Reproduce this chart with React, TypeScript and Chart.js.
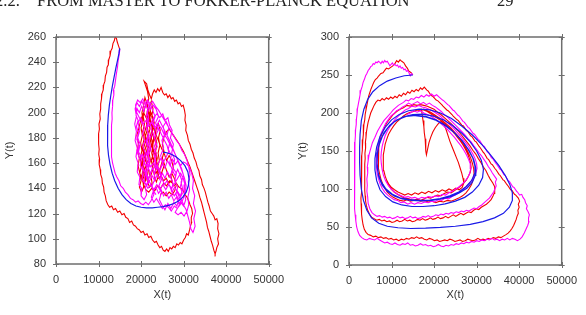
import React, { useEffect, useRef } from 'react';
import { Chart, registerables } from 'chart.js';
Chart.register(...registerables);

// ---------- axis settings ----------
const X_MIN = 0, X_MAX = 50000, X_STEP = 10000;
const LEFT_Y = [80, 260, 20];
const RIGHT_Y = [0, 300, 50];

// ---------- left panel series ----------
const blueLeft: number[][] = [
  [15000,251],[14800,247],[14500,242],[14100,236],[13700,229],[13300,222],[12900,214],[12550,206],[12300,198],[12150,190],[12100,182],[12150,174],[12350,166],[12700,159],[13200,152],[13800,146],[14600,140],[15500,135],[16500,131],[17600,128],[18800,126],[20000,125],[21300,124.5],[22600,124.5],[23900,125],[25200,125.5],[26500,126.5],[27700,128],[28800,130],[29800,133],[30600,137],[31100,142],[31300,147],[31000,153],[30300,158],[29300,162],[28200,165],[27100,167],[26200,168],[25600,168.5],[25200,168.5]
];

const redLeft: number[][] = [
  [15000,250],[14700,253],[14400,256],[14200,259],[13900,260],[13700,257],[13400,255],[13200,251],[12900,249],[12700,245],[12400,242],[12300,238],[12000,236],[11900,232],[11600,229],[11500,225],[11200,222],[11100,218],[10800,215],[10700,211],[10500,207],[10500,203],[10300,199],[10400,195],[10100,191],[10200,187],[10000,183],[10100,179],[9950,175],[10150,171],[10050,167],[10250,163],[10150,159],[10400,155],[10500,151],[10800,148],[10900,144],[11200,141],[11300,137],[11600,134],[11800,130],[12200,127],[12600,125],[13100,126],[13500,123],[14000,124],[14500,121],[15000,122],[15500,119],[16000,120],[16400,117],[16900,116],[17300,113],[17800,114],[18200,111],[18700,110],[19100,108],[19600,107],[20000,105],[20500,106],[20900,103],[21400,104],[21800,101],[22300,102],[22700,99],[23200,97],[23600,98],[24000,95],[24400,93],[24800,94],[25200,91],[25600,90],[26000,92],[26400,90],[26800,93],[27200,92],[27600,94],[28000,93],[28400,96],[28800,95],[29200,97],[29600,96],[30000,99],[30400,101],[30700,104],[31100,103],[31400,107],[31600,110],[31900,113],[31800,117],[32100,120],[31900,124],[31500,127],[31200,130],[30800,133],[30300,135],[29900,138],[29400,140],[28900,141],
  [28300,144],[27700,142],[27100,146],[26500,144],[25900,148],[25300,146],[24700,150],[24100,148],[23600,153],[23100,151],[22700,156],[22900,162],[22500,168],[22800,174],[22400,180],[22700,186],[22300,192],[22000,198],[21700,203],[21300,208],[20900,212],[20600,206],[20200,200],[20400,194],[20000,188],[20300,182],[19900,176],[20200,170],[19800,164],[20100,158],[19700,152],[20000,146],[19600,141],[20100,137],[20600,141],[20400,147],[20900,152],[20600,158],[21100,163],[20800,169],[21300,175],[21000,181],[21500,187],[21200,193],[21700,199],[21400,205],[21800,211],[21500,217],[21000,222],[20700,225],[21300,223],[21600,218],[22000,214],[22400,211],[22700,215],[23100,218],[23500,216],[23900,219],[24300,217],[24700,220],[25100,216],[25500,214],[25900,215],[26300,212],[26700,214],[27100,211],[27500,212],[27900,209],[28300,210],[28700,207],[29100,208],[29500,205],[29900,206],[30200,202],[30400,198],[30300,194],[30600,190],[30500,186],[30900,182],[31100,178],[31500,175],[31800,171],[32200,168],[32500,164],[32900,161],[33200,157],[33600,154],[33800,150],[34200,147],[34400,143],[34800,140],[35100,137],[35400,133],[35700,129],[36000,126],[36300,122],[36700,120],[37100,118],[37400,115],[37800,116],[38100,112],[38000,108],[38300,104],[38000,100],[38200,96],[37800,93],[37600,90],[37400,88],[37100,91],[36800,95],[36500,98],[36200,102],[35900,106],[35600,109],[35400,113],[35100,117],[34800,121],[34500,125],[34200,129],[33800,133],[33500,137],[33100,141],[32700,145],[32300,149],[31900,153],[31500,157],[31000,161],[30500,165],[30000,169],[29500,172],[29000,175],[28400,178],[27800,181],[27200,184],[26600,187],
  [26000,185],[25400,181],[25000,175],[25400,169],[24900,163],[25300,157],[24700,151],[24100,155],[23700,161],[23300,167],[23600,173],[23200,179],[23500,185],[23000,190],[22500,186],[22100,180],[22400,174],[21900,168],[22200,162],[21700,156],[22000,150],[21500,145],[22000,141],[22600,144],[22300,150],[22800,156],[22400,162],[22900,168],[22500,174],[23000,180],[22600,186],[23100,192],[22700,197],[22200,201],[21800,196],[21400,190],[21700,184],[21200,178],[21500,172],[21000,166],[21300,160],[20800,154],[21100,148],[20600,143],[21100,139],[21800,137],[22500,140],[23200,138],[23900,142],[24600,140],[25300,144],[26000,142],[26700,146],[27400,144],[27000,150],[27600,156],[27200,162],[26600,166],[26000,162],[25500,167],[24900,171],[24300,176],[23700,181],[23100,186],[22500,191],[21900,194],[21300,190],[20800,184],[21100,178],[20600,172],[20900,166],[20400,160],[20700,154],[20200,148],[19700,152],[19300,158],[19600,164],[19100,170],[19400,176],[19000,182],[19500,188],[20000,195],[20600,200],[21200,196],
  [21600,203],[21300,208],[20800,203],[20500,197],[20800,191],[20400,185],[20700,179],[20300,173],[20600,167],[20200,161],[20500,155],[20100,149],[20500,144],[21100,146],[21500,151],[21200,157],[21700,163],[21400,169],[21900,175],[21600,181],[22100,187],[21800,193],[22300,199],[22000,205],[22400,209],[22800,203],[22500,197],[22900,191],[22600,185],[23000,179],[22700,173],[23200,167],[22900,161],[23400,155],[23100,149],[23600,145],[24100,150],[23800,156],[24300,162],[24000,168],[24400,174],[24100,180],[24500,186],[24100,191],[23600,188],[23300,182],[23700,176],[23400,170],[23800,164],[23500,158],[24000,152],[24600,157],[25100,163],[25600,158],[26100,153],[26600,149],[27200,152],[27800,148],[28300,143],[27900,138],[27300,135],[26600,137],[25900,134],[25200,137],[24500,135]
];

const magentaLeft: number[][] = [
  [15000,250],[14850,246],[14600,241],[14450,236],[14200,231],[14000,226],[13800,221],[13500,218],[13600,214],[13350,210],[13300,205],[13150,200],[13200,195],[13050,190],[13100,185],[12950,180],[13050,175],[13000,170],[13150,165],[13300,160],[13600,156],[13900,152],[14300,149],[14800,146],[15200,142],[15800,140],[16300,137],[16900,135],[17500,132],[18100,131],[18700,129],[19300,130],[19900,128],[20500,127],[21100,129],[21700,127],[22300,130],
  [23000,135],[22600,142],[23300,148],[22800,155],[23500,160],[23000,168],[23800,173],[23200,180],[24000,186],[23400,192],[24100,197],[23500,203],[22800,206],[22100,203],[21500,208],[20800,204],[20200,209],[19600,205],[19000,208],[18600,203],[18900,197],[18500,191],[18900,185],[18600,178],[19100,172],[18800,165],[19300,160],[19100,153],[19700,149],[19500,143],[20200,140],[20000,134],[20700,131],[21300,135],[21000,141],[21700,146],[21300,153],[22000,158],[21600,165],[22300,171],[21900,178],[22600,184],[22200,191],[22900,196],[23700,199],[24400,196],[25100,199],[25600,194],[26300,196],[26700,190],[27300,186],[26900,180],[27600,175],[27200,168],[27900,163],[27500,156],[28300,152],[27900,146],[28600,141],[28200,135],[28900,131],[28400,126],[27700,129],[27000,124],[26300,128],[25600,123],[24900,127],[24300,131],[24800,137],[24200,142],[24900,148],[24400,154],[25100,160],[24600,166],[25300,172],[24900,178],[25600,183],[25200,189],[25900,193],[26500,188],[26100,182],[26800,177],[26400,171],[27100,166],[26700,160],[27300,155],[26900,149],[27500,144],[27100,138],[27800,134],[28500,138],[29200,134],[29800,139],[29400,145],[30000,150],[29500,156],[28900,160],[28300,165],[27600,170],[26900,174],[26200,179],[25400,183],[24700,188],[23900,191],[23200,188],[22500,192],[21800,189],[21200,194],[20500,191],[19900,196],[19300,192],[19700,186],[19200,180],[19800,175],[19400,169],[20100,164],[19800,158],[20500,154],[20200,147],[20900,144],[21600,140],[22300,143],[23000,139],[23700,143],[24400,139],[25100,143],[25800,139],[26500,143],[27200,140],[27900,144],[28600,148],[29300,152],[29900,148],[30300,143],[30100,137],[30500,131],[30000,126],[29300,129],[28700,125],[28000,121],[28700,119],[29400,121],[30100,118],[30800,122],[31200,127],[31000,133],[31400,139],[31100,145],[31500,151],[31200,157],[30800,162],[30200,167],[29600,170],[29000,175],[28300,178],[27600,182],[26900,186],[26200,190],[25500,194],[24800,198],[24100,202],[23400,205],[22700,209],[22000,206],[21400,201],[21800,195],[21300,189],[21700,183],[21200,177],[21600,171],[21100,165],[21500,159],[21000,153],[21400,147],[22100,150],[22600,156],[23200,152],[23800,158],[24400,154],[25000,160],[25600,156],[26200,162],[26800,158],[27400,163],[28000,159],[28700,162],[29300,158],[29900,161],[30500,160],[31300,157],[31900,152],[32300,146],[32100,140],[32600,134],[32300,128],[32800,122],[32400,116],[32700,110],[32200,105],[31700,108],[31400,113],[31000,118],[30600,123],[30100,126],
  [29500,131],[28900,128],[28300,133],[27700,130],[27100,135],[26500,132],[25900,137],[25300,134],[24700,139],[24100,136],[23500,141],[22900,138],[22300,143],[21700,147],[22200,152],[21600,157],[22100,162],[21500,167],[22000,172],[21400,177],[21900,182],[21300,187],[21800,192],[21200,197],[21700,202],[21100,206],[20600,201],[20100,205],[19600,200],[19100,203],[18800,198],[19300,194],[18900,189],[19400,184],[19000,179],[19500,174],[19200,168],[19700,163],[20300,167],[20800,162],[20400,157],[21000,152],[20700,146],[21300,142],[22000,146],[22600,150],[23200,146],[23800,151],[24400,147],[25000,152],[25600,148],[26200,153],[26800,149],[27400,154],[28000,150],[28600,155],[29100,151],[29600,146],[29200,141],[29700,136],[29100,132],[28500,137],[27900,141],[27300,137],[26700,142],[26100,146],[25500,143],[24900,148],[24300,152],[23700,157],[23100,162],[23600,167],[23000,172],[23500,177],[22900,182],[23400,187],[22800,192],[23300,197],[22700,202],[22100,207],[21500,210],[20900,207],[20400,211],[19800,208],[19200,210],[18700,206],[19000,200],[19600,196],[20200,192],[20800,188],[20300,183],[20900,178],[20400,173],[21000,168],[20500,163],[21100,158],[21700,161],[22300,157],[22900,160],[23500,156],[24100,160],[24700,164],[25300,161],[25900,165],[26500,169],[26100,174],[25500,178],[24900,182],[24300,186],[23700,190],[24300,194],[24900,190],[25500,186],[26100,182],[26700,178],[27300,173],[27900,168],[28500,163],[29100,158],[29700,153],[30200,148],[30600,142],[30300,136],[29800,131],[29200,127],[28500,124],[27800,126],[27100,122],[26400,125],[25700,127],[25000,124],[24300,128],[23600,132],[23000,129],[22400,133],[22900,138],[23500,135]
];

// ---------- right panel series ----------
const blueRight: number[][] = [
  [15000,250],[13000,249],[11000,246],[9000,242],[7200,236],[5600,228],[4400,218],[3500,205],[2900,190],[2600,172],[2500,155],[2500,135],[2600,118],[2900,100],[3400,85],[4200,72],[5300,62],[7000,55],[9000,51],[11500,49],[14500,48],[18000,48.5],[21500,49.5],[25000,51],[28500,53.5],[31500,57],[34200,62],[36300,68],[37700,76],[38400,85],[38400,95],[37800,106],[36700,118],[35200,131],[33400,144],[31300,158],[29000,171],[26500,183],[24000,193],[21500,200],[19000,204],[16500,205],[14000,203],[11800,198],[10000,191],[8500,181],[7300,169],[6500,155],[6100,140],[6100,125],[6500,111],[7300,99],[8600,90],[10300,83],[12400,79],[14800,77],[17400,77],[20000,78],[22600,80.5],[25000,84],[27200,89],[29000,96],[30500,105],[31400,115],[31600,126],[31100,138],[30000,150],[28500,162],[26600,173],[24500,183],[22200,191],[19800,196],[17400,198.5],[15000,198],[12800,195],[10800,189],[9200,181],[7900,170],[7000,157],[6600,143],[6600,129],[7000,116],[7800,105],[9000,97],[10600,91],[12500,87],[14700,85],[17000,84.5],[19400,85],[21700,87],[24000,90],[26000,95],[27700,101],[29000,109],[29700,118],[29800,128],[29300,139],[28200,151],[26700,163],[24800,174],[22700,184],[20400,191],[18000,195.5],[15700,197],[13400,195.5],[11300,191],[9600,184],[8200,174],[7200,162],[6700,148],[6600,134],[6900,120],[7600,109],[8700,100],[10200,93],[12000,88.5],[14200,86],[16500,85],[19000,85.5],[21400,87.5],[23700,91],[25800,96],[27500,103],[28800,111],[29500,120],[29600,130],[29100,141],[28000,152],[26500,164],[24600,175],[22500,184],[20200,191],[17900,195],[15600,196.5]
];

const redRight: number[][] = [
  [15000,250],[14600,253],[14100,255],[13700,259],[13300,262],[12900,266],[12400,268],[12000,270],[11600,267],[11200,269],[10800,265],[10300,262],[9800,260],[9300,258],[8800,259],[8400,256],[8000,253],[7500,252],[7000,249],[6600,246],[6200,244],[5800,240],[5500,236],[5200,232],[4900,227],[4600,222],[4400,216],[4200,210],[4000,204],[3800,198],[3700,191],[3500,185],[3450,178],[3300,172],[3250,165],[3100,158],[3150,151],[3000,144],[3050,137],[2950,130],[3000,123],[2900,116],[2950,109],[2850,102],[2900,95],[2800,88],[2850,81],[2900,74],[3000,67],[3100,60],[3300,53],[3600,47],[4000,43],[4500,40],[5100,39],[5700,37],[6300,38],[6900,36],[7500,37],[8100,35],[8700,36],[9300,34],[9900,35],[10500,33],[11100,34],[11700,32],[12300,34],[12900,33],[13500,35],[14100,34],[14700,36],[15300,35],[15900,37],[16500,35],[17100,36],[17700,34],[18300,33],[18900,35],[19500,34],[20100,32],[20700,33],[21300,31],[21900,32],[22500,33],[23100,32],[23700,34],[24300,33],[24900,31],[25500,32],[26100,33],[26700,31],[27300,32],[27900,34],[28500,33],[29100,32],[29700,33],[30300,35],[30900,33],[31500,34],[32100,33],[32700,35],[33300,34],[33900,36],[34500,35],[35100,37],[35700,36],[36300,38],[36900,40],[37400,42],[37900,45],[38300,48],[38700,52],[39000,56],[39300,60],[39500,64],[39800,68],[39700,72],[40000,76],[39800,80],[40100,84],
  [39800,88],[39200,92],[38900,93],[38300,98],[38000,99],[37400,104],[37100,106],[36500,111],[36200,112],[35500,118],[35300,119],[34600,125],[34300,127],[33700,132],[33400,133],[32800,139],[32500,140],[31800,147],[31600,148],[30900,154],[30600,156],[29900,162],[29600,163],[28900,169],[28600,170],[27900,176],[27600,177],[26900,183],[26500,184],[25700,190],[25400,191],[24500,196],[24200,198],[23300,203],[23000,204],[22100,209],[21800,211],[20900,216],[20500,217],[19700,222],[19300,223],[18600,229],[18300,230],[17700,234],
  [17200,231],[16800,233],[16300,229],[15800,231],[15300,228],[14800,230],[14300,226],[13800,228],[13300,224],[12800,226],[12300,222],[11800,224],[11300,220],[10800,222],[10300,219],[9800,221],[9300,218],[8800,220],[8300,217],[7800,219],[7300,216],[6800,217],[6300,214],[5900,210],[5500,205],[5100,200],[4800,194],[4500,188],[4300,182],[4100,175],[4000,168],[3850,161],[3900,154],[3750,147],[3800,140],[3700,133],[3750,126],[3650,119],[3700,112],[3650,105],[3750,98],[3800,91],[3900,84],[4100,78],[4400,72],[4800,67],[5300,63],[5900,61],[6500,59],[7100,60],[7700,58],[8300,59],[8900,57],[9500,58],[10100,56],[10700,57],[11300,59],[11900,57],[12500,58],[13100,60],[13700,58],[14300,59],[14900,57],[15500,58],[16100,60],[16700,59],[17300,61],[17900,59],[18500,60],[19100,62],[19700,60],[20300,61],[20900,63],[21500,61],[22100,62],[22700,64],[23300,62],[23900,64],[24500,66],[25100,64],[25700,66],[26300,68],[26900,66],[27500,68],[28100,70],[28700,69],[29300,72],[29900,74],[30500,73],[31100,76],[31700,78],[32300,80],[32900,83],[33400,86],[33800,90],[34100,94],[34300,98],[34200,103],
  [33800,108],[33200,113],[32700,118],[32200,124],[31600,129],[31000,135],[30400,140],[29800,146],[29100,151],[28400,157],[27700,162],[27000,167],[26300,172],[25600,177],[24800,181],[24000,186],[23200,190],[22400,194],[21600,198],[20800,201],[20000,205],[19200,207],[18400,209],[17600,210],[16800,211],[16000,210],[15200,211],[14400,209],[13600,210],[12800,207],[12000,205],[11200,202],[10400,198],[9700,193],[9000,188],[8400,182],[7900,176],[7500,169],[7200,162],[7000,155],[6900,148],[6850,141],[6900,134],[7000,127],[7200,120],[7500,113],[7900,107],[8400,101],[9000,96],[9700,92],[10400,89],[11200,87],[12000,85],[12800,84],[13600,86],[14400,84],[15200,85],[16000,87],[16800,85],[17600,87],[18400,89],[19200,88],[20000,90],[20800,92],[21600,91],[22400,94],[23200,96],[24000,95],[24800,98],[25600,101],[26300,104],[27000,108],[27600,112],[28100,117],[28500,122],[28700,128],[28600,134],[28300,140],[27900,146],[27400,152],[26800,158],[26200,163],[25500,168],[24800,173],[24000,178],[23200,182],[22400,186],[21600,190],[20800,193],[20000,196],[19200,199],[18400,202],[17600,204],[17000,205],
  [17200,198],[17400,190],[17600,182],[17700,174],[17900,166],[18000,158],[18100,150],[18200,145],[18500,153],[18800,161],[19200,168],[19700,175],[20300,181],[21000,186],[21700,189],[22400,184],[22900,177],[23300,170],[23700,163],[24200,156],[24700,149],[25200,142],[25700,135],[26100,128],[26500,121],[26800,114],[27000,108],[26600,102],[25900,99],[25100,101],[24300,98],[23500,100],[22700,97],[21900,99],[21100,96],[20300,98],[19500,95],[18700,97],[17900,94],[17100,96],[16300,93],[15500,95],[14700,92],[13900,94],[13100,92],[12300,94],[11500,96],[10700,99],[10000,102],[9400,106],[8900,111],[8500,117],[8200,124],[8100,131],[8000,138],[8100,145],[8300,152],[8500,159],[8900,166],[9300,172],[9900,178],[10500,183],[11200,188],[12000,192],[12800,196],[13600,199],[14400,201],[15200,202],[16000,204],[16800,203],[17600,205],[18400,203],[19200,201],[20000,198],[20800,195],[21600,192],[22400,188],[23200,184],[24000,180],[24800,175],[25600,170],[26300,165],[27000,159],[27600,153],[28100,147],[28600,141],[29000,134],[29300,127],[29400,120],[29200,113],[28800,106],[28200,100],[27500,95],[26700,91],[25800,88],[24900,86],[24000,84],[23100,85],[22200,83],[21300,84],[20400,82],[19500,84],[18600,83],[17700,85],[16800,84],[15900,86],[15000,85],[14100,87],[13200,88],[12300,90],[11400,93],[10600,96],[9900,100],[9300,105],[8800,111]
];

const magentaRight: number[][] = [
  [15000,250],[14700,252],[14400,249],[14100,253],[13800,256],[13500,255],[13200,258],[12900,257],[12600,260],[12300,259],[12000,262],[11700,260],[11400,263],[11100,262],[10800,264],[10500,263],[10200,266],[9900,264],[9600,262],[9300,265],[9000,268],[8700,267],[8400,269],[8100,266],[7800,268],[7500,265],[7200,267],[6900,268],[6600,266],[6300,267],[6000,264],[5700,265],[5400,262],[5100,261],[4800,258],[4500,256],[4200,252],[3900,249],[3600,244],[3300,240],[3100,235],[2800,230],[2600,224],[2400,218],[2200,212],[2000,206],[1900,199],[1750,192],[1700,185],[1550,178],[1500,170],[1400,162],[1400,154],[1300,146],[1350,138],[1250,130],[1300,122],[1200,114],[1300,106],[1250,98],[1350,90],[1300,82],[1400,74],[1450,66],[1600,58],[1800,50],[2100,44],[2500,39],[3000,36],[3600,34],[4200,33],[4800,35],[5400,34],[6000,33],[6600,35],[7200,33],[7800,31],[8400,29],[9000,30],[9600,28],[10200,27],[10800,29],[11400,27],[12000,26],[12600,28],[13200,27],[13800,29],[14400,26],[15000,27],[15600,25],[16200,26],[16800,28],[17400,26],[18000,27],[18600,25],[19200,26],[19800,24],[20400,25],[21000,27],[21600,25],[22200,24],[22800,26],[23400,25],[24000,27],[24600,26],[25200,28],[25800,27],[26400,29],[27000,28],[27600,30],[28200,29],[28800,31],[29400,30],[30000,32],[30600,31],[31200,33],[31800,32],[32400,34],[33000,33],[33600,35],[34200,33],[34800,34],[35400,32],[36000,34],[36600,33],[37200,35],[37800,33],[38400,35],[39000,34],[39600,32],[40200,34],[40700,37],[41200,42],[41600,47],[42000,52],[42300,57],[42200,62],[42400,66],[42100,70],[41700,74],[41900,78],[41500,82],[41300,86],[40900,89],[40600,93],
  [40100,92],[39600,96],[39400,97],[38800,102],[38500,103],[37700,110],[37400,111],[36700,118],[36400,119],[35800,125],[35500,126],[34800,132],[34500,134],[33800,140],[33500,141],[32800,148],[32500,149],[31800,156],[31500,157],[30700,164],[30400,165],[29500,172],[29200,173],[28300,180],[28000,181],[27100,188],[26800,189],[25900,196],[25600,197],[24700,203],[24400,204],[23500,210],[23200,211],[22300,216],[22000,217],[21200,221],[20600,224],
  [20000,222],[19400,225],[18800,222],[18200,224],[17600,221],[17000,223],[16400,220],[15800,221],[15200,218],[14600,219],[14000,216],[13400,217],[12800,214],[12200,212],[11600,210],[11000,207],[10400,204],[9800,200],[9000,195],[8200,190],[7400,183],[6700,176],[6100,168],[5500,161],[5100,153],[4700,145],[4500,137],[4300,129],[4400,121],[4200,113],[4300,105],[4200,97],[4400,89],[4500,81],[4900,74],[5400,69],[6000,66],[6600,64],[7200,65],[7800,63],[8400,64],[9000,62],[9600,63],[10200,61],[10800,62],[11400,64],[12000,62],[12600,63],[13200,61],[13800,62],[14400,64],[15000,62],[15600,63],[16200,61],[16800,62],[17400,64],[18000,63],[18600,65],[19200,63],[19800,64],[20400,66],[21000,65],[21600,67],[22200,66],[22800,68],[23400,67],[24000,69],[24600,68],[25200,70],[25800,69],[26400,71],[27000,70],[27600,72],[28200,71],[28800,73],[29400,75],[30000,74],[30600,77],[31200,79],[31800,82],[32400,85],[33000,88],[33500,92],[34000,96],[34300,100],[34600,104],[34400,109],[34700,113],
  [34200,117],[33700,121],[33200,126],[32700,130],[32200,135],[31700,139],[31100,144],[30500,148],[29900,153],[29300,157],[28700,162],[28000,166],[27300,171],[26600,175],[25900,179],[25200,183],[24500,187],[23800,191],[23100,195],[22400,198],[21700,202],[21000,205],[20300,208],[19600,210],[18900,213],[18200,211],[17500,214],[16800,212],[16100,215],[15400,213],[14700,211],[14000,213],[13300,210],[12600,208],[11900,205],[11200,203],[10500,199],[9800,196],[9200,191],[8600,186],[8100,180],[7600,174],[7200,167],[6900,160],[6700,152],[6500,145],[6400,137],[6500,129],[6600,121],[6900,114],[7300,107],[7800,101],[8400,96],[9100,92],[9800,89],[10600,86],[11400,85],[12200,82],[13000,83],[13800,80],[14600,82],[15400,80],[16200,82],[17000,81],[17800,83],[18600,82],[19400,84],[20200,83],[21000,86],[21800,85],[22600,88],[23400,87],[24200,90],[25000,92],[25800,95],[26600,98],[27400,102],[28100,106],[28800,111],[29400,116],[29800,121],[30100,127],[30000,133],[29700,139],[29200,145],[28700,150],[28100,156],[27400,161],[26700,166],[26000,171],[25200,176],[24400,181],[23600,185],[22800,189],[22000,193],[21200,197],[20400,200],[19600,203],[18800,205],[18000,207],[17200,208],[16400,210],[15600,208],[14800,209],[14000,206],[13200,204],[12400,200],[11600,196],[10900,192],[10200,187],[9600,182],[9000,176],[8500,170],[8100,163],[7800,156],[7600,149],[7500,141],[7600,133],[7800,125],[8100,118],[8600,111],[9200,105],[9900,100],[10700,96],[11500,93],[12300,91],[13100,89],[13900,90],[14700,88],[15500,89],[16300,87],[17100,89],[17900,88],[18700,90],[19500,89],[20300,91],[21100,90],[21900,93],[22700,92],[23500,95],[24300,97],[25100,100],[25900,103],[26700,107],[27400,111],[28000,116],[28400,121],[28600,127],[28500,133],[28100,139],[27600,145],[27000,151],[26300,157],[25600,162],[24800,168],[24000,173],[23200,178],[22400,182],[21600,186],[20800,190],[20000,193],[19200,196],[18400,198],[17600,200],[16800,203],[16000,201],[15200,203],[14400,200],[13600,198]
];

// ---------- colours ----------
const RED = '#f20000';
const MAGENTA = '#ff00ff';
const BLUE = '#1a1ae8';
const FRAME = '#6e6e6e';
const TEXT = '#333333';

const toXY = (arr: number[][]) => arr.map(([x, y]) => ({ x, y }));

const framePlugin = {
  id: 'frameTicks',
  afterDatasetsDraw(chart: any) {
    const { ctx, chartArea } = chart;
    const { left, right, top, bottom } = chartArea;
    const xs = chart.scales.x, ys = chart.scales.y;
    ctx.save();
    ctx.strokeStyle = FRAME;
    ctx.lineWidth = 1;
    ctx.beginPath();
    const T = 3;
    xs.ticks.forEach((t: any) => {
      const p = Math.round(xs.getPixelForValue(t.value)) + 0.5;
      ctx.moveTo(p, bottom - T); ctx.lineTo(p, bottom + T);
      ctx.moveTo(p, top - T); ctx.lineTo(p, top + T);
    });
    ys.ticks.forEach((t: any) => {
      const p = Math.round(ys.getPixelForValue(t.value)) + 0.5;
      ctx.moveTo(left - T, p); ctx.lineTo(left + T, p);
      ctx.moveTo(right - T, p); ctx.lineTo(right + T, p);
    });
    ctx.stroke();
    ctx.lineWidth = 1.5;
    ctx.strokeRect(left, top, right - left, bottom - top);
    ctx.restore();
  },
};

type PanelProps = {
  left: number;
  yAxis: number[];
  red: number[][];
  magenta: number[][];
  blue: number[][];
  padRight: number;
  xHeight: number;
};

function Panel({ left, yAxis, red, magenta, blue, padRight, xHeight }: PanelProps) {
  const ref = useRef<HTMLCanvasElement | null>(null);
  useEffect(() => {
    if (!ref.current) return;
    const font = { family: '"Liberation Sans", Arial, sans-serif', size: 11 };
    const line = { showLine: true, pointRadius: 0, tension: 0 };
    // first dataset is drawn on top
    const chart = new Chart(ref.current, {
      type: 'scatter',
      data: {
        datasets: [
          { data: toXY(blue), borderColor: BLUE, borderWidth: 1.2, ...line },
          { data: toXY(magenta), borderColor: MAGENTA, borderWidth: 1.1, ...line },
          { data: toXY(red), borderColor: RED, borderWidth: 1.1, ...line },
        ],
      },
      options: {
        animation: false,
        responsive: false,
        devicePixelRatio: 1,
        layout: { padding: { left: 0, top: 37, right: padRight, bottom: 10 } },
        plugins: { legend: { display: false }, tooltip: { enabled: false } },
        scales: {
          x: {
            type: 'linear', min: X_MIN, max: X_MAX,
            grid: { display: false, drawTicks: false },
            border: { display: false },
            ticks: { stepSize: X_STEP, color: TEXT, font, padding: 9, maxRotation: 0, callback: (v: any) => String(v) },
            title: { display: true, text: 'X(t)', color: TEXT, font, padding: { top: 0, bottom: 3 } },
            afterFit: (s: any) => { s.height = xHeight; },
          },
          y: {
            type: 'linear', min: yAxis[0], max: yAxis[1],
            grid: { display: false, drawTicks: false },
            border: { display: false },
            ticks: { stepSize: yAxis[2], color: TEXT, font, padding: 10, callback: (v: any) => String(v) },
            title: { display: true, text: 'Y(t)', color: TEXT, font, padding: { top: 3, bottom: 0 } },
            afterFit: (s: any) => { s.width = 56; },
          },
        },
      },
      plugins: [framePlugin],
    } as any);
    return () => chart.destroy();
  }, []);
  return (
    <canvas
      ref={ref}
      width={293}
      height={315}
      style={{ position: 'absolute', left, top: 0, width: 293, height: 315 }}
    />
  );
}

export default function App() {
  const serif = '"Liberation Serif", "DejaVu Serif", serif';
  const head = { position: 'absolute' as const, top: -7, fontFamily: serif, fontSize: 16.5, lineHeight: '16.5px', color: '#222', whiteSpace: 'pre' as const };
  return (
    <div style={{ position: 'absolute', left: 0, top: 0, width: 586, height: 315, overflow: 'hidden', background: '#fff' }}>
      <Panel left={0} yAxis={LEFT_Y} red={redLeft} magenta={magentaLeft} blue={blueLeft} padRight={22} xHeight={41} />
      <Panel left={293} yAxis={RIGHT_Y} red={redRight} magenta={magentaRight} blue={blueRight} padRight={15} xHeight={40} />
      <div style={{ ...head, left: -5 }}>2.2.</div>
      <div style={{ ...head, left: 37 }}>FROM MASTER TO FOKKER-PLANCK EQUATION</div>
      <div style={{ ...head, left: 497 }}>29</div>
    </div>
  );
}
